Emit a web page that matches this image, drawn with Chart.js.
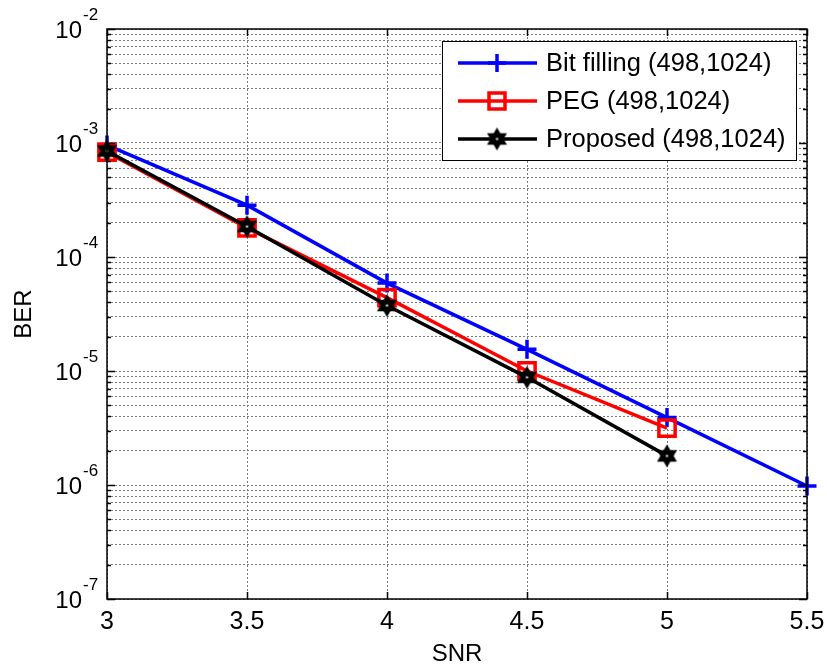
<!DOCTYPE html>
<html>
<head>
<meta charset="utf-8">
<script src="https://cdn.jsdelivr.net/npm/chart.js@4"></script>
<style>
  html, body { margin: 0; padding: 0; background: #fff; }
</style>
</head>
<body>
<canvas id="berChart" width="827" height="671"></canvas>
<script>
// data
var snr = [3, 3.5, 4, 4.5, 5, 5.5];
var berBitFilling = [9.6e-4, 2.85e-4, 5.9e-5, 1.55e-5, 3.9e-6, 9.8e-7];
var berPEG = [8.3e-4, 1.8e-4, 4.4e-5, 1.0e-5, 3.15e-6];
var berProposed = [8.5e-4, 1.85e-4, 3.75e-5, 8.8e-6, 1.8e-6];
var seriesNames = ['Bit filling (498,1024)', 'PEG (498,1024)', 'Proposed (498,1024)'];
var xTicks = [3, 3.5, 4, 4.5, 5, 5.5];
var yExponents = [-7, -6, -5, -4, -3, -2];

var FONT = '"Liberation Sans", Arial, sans-serif';

function toPoints(xs, ys) {
  var out = [];
  for (var i = 0; i < ys.length; i++) out.push({ x: xs[i], y: ys[i] });
  return out;
}

// hexagram marker (MATLAB 'h')
function makeHexagram(r) {
  var c = document.createElement('canvas');
  var s = Math.ceil(r * 2 + 4);
  c.width = s; c.height = s;
  var g = c.getContext('2d');
  var cx = s / 2, cy = s / 2;
  g.fillStyle = '#000';
  [ -Math.PI / 2, Math.PI / 2 ].forEach(function (a0) {
    g.beginPath();
    for (var k = 0; k < 3; k++) {
      var a = a0 + k * 2 * Math.PI / 3;
      var px = cx + r * Math.cos(a), py = cy + r * Math.sin(a);
      if (k === 0) g.moveTo(px, py); else g.lineTo(px, py);
    }
    g.closePath();
    g.fill();
  });
  g.fillStyle = '#fff';
  g.fillRect(cx - 1, cy - 1, 2, 2);
  return c;
}
var hexMarker = makeHexagram(11.5);

// all decade + minor values for the log grid
var yGridValues = [];
for (var e = yExponents[0]; e < yExponents[yExponents.length - 1]; e++) {
  for (var m = 1; m < 10; m++) yGridValues.push(m * Math.pow(10, e));
}
yGridValues.push(Math.pow(10, yExponents[yExponents.length - 1]));

function drawMarker(ctx, idx, x, y) {
  ctx.save();
  if (idx === 0) {
    ctx.strokeStyle = '#0000ff'; ctx.lineWidth = 3.5;
    ctx.beginPath();
    ctx.moveTo(x - 9, y); ctx.lineTo(x + 9, y);
    ctx.moveTo(x, y - 9); ctx.lineTo(x, y + 9);
    ctx.stroke();
  } else if (idx === 1) {
    ctx.strokeStyle = '#ff0000'; ctx.lineWidth = 3.5;
    ctx.strokeRect(x - 8, y - 8, 16, 16);
  } else {
    ctx.drawImage(hexMarker, x - hexMarker.width / 2, y - hexMarker.height / 2);
  }
  ctx.restore();
}

var matlabFrame = {
  id: 'matlabFrame',
  afterDraw: function (chart) {
    var ctx = chart.ctx;
    var a = chart.chartArea;
    var ys = chart.scales.y, xs = chart.scales.x;
    ctx.save();
    ctx.strokeStyle = '#000';
    ctx.lineWidth = 1.5;
    ctx.strokeRect(a.left, a.top, a.right - a.left, a.bottom - a.top);

    // inward tick marks
    ctx.lineWidth = 1.5;
    ctx.beginPath();
    yGridValues.forEach(function (v) {
      var py = Math.round(ys.getPixelForValue(v)) + 0.5;
      var major = Math.abs(Math.log10(v) - Math.round(Math.log10(v))) < 1e-9;
      var len = major ? 8 : 4;
      ctx.moveTo(a.left, py); ctx.lineTo(a.left + len, py);
      ctx.moveTo(a.right, py); ctx.lineTo(a.right - len, py);
    });
    xTicks.forEach(function (v) {
      var px = Math.round(xs.getPixelForValue(v)) + 0.5;
      ctx.moveTo(px, a.bottom); ctx.lineTo(px, a.bottom - 7);
      ctx.moveTo(px, a.top); ctx.lineTo(px, a.top + 7);
    });
    ctx.stroke();

    // y tick labels 10^e
    ctx.fillStyle = '#000';
    yExponents.forEach(function (ex) {
      var py = ys.getPixelForValue(Math.pow(10, ex));
      ctx.font = '24px ' + FONT;
      ctx.textAlign = 'right';
      ctx.textBaseline = 'middle';
      ctx.fillText('10', 82, py + 2);
      ctx.font = '17px ' + FONT;
      ctx.textAlign = 'left';
      ctx.fillText(String(ex), 83, py - 14);
    });

    // legend
    var lx = 442, ly = 41, lw = 354, lh = 119;
    ctx.fillStyle = '#fff';
    ctx.fillRect(lx, ly, lw, lh);
    ctx.strokeStyle = '#000';
    ctx.lineWidth = 1;
    ctx.strokeRect(lx + 0.5, ly + 0.5, lw, lh);
    var rows = [63, 101, 139];
    var colors = ['#0000ff', '#ff0000', '#000000'];
    chart.data.datasets.forEach(function (ds, i) {
      var ry = rows[i];
      ctx.strokeStyle = colors[i];
      ctx.lineWidth = 3.5;
      ctx.beginPath();
      ctx.moveTo(458, ry); ctx.lineTo(537, ry);
      ctx.stroke();
      drawMarker(ctx, i, 497, ry);
      ctx.fillStyle = '#000';
      ctx.font = '25.5px ' + FONT;
      ctx.textAlign = 'left';
      ctx.textBaseline = 'middle';
      ctx.fillText(ds.label, 546, ry + 1);
    });
    ctx.restore();
  }
};

var ctx = document.getElementById('berChart');
var chart = new Chart(ctx, {
  type: 'line',
  data: {
    datasets: [{
      label: seriesNames[0],
      data: toPoints(snr, berBitFilling),
      borderColor: '#0000ff',
      borderWidth: 3.5,
      pointStyle: 'cross',
      pointRadius: 9.5,
      pointBorderWidth: 3.5,
      pointBorderColor: '#0000ff',
      clip: false,
      order: 3
    }, {
      label: seriesNames[1],
      data: toPoints(snr, berPEG),
      borderColor: '#ff0000',
      borderWidth: 3.5,
      pointStyle: 'rect',
      pointRadius: 11.5,
      pointBorderWidth: 3.5,
      pointBorderColor: '#ff0000',
      pointBackgroundColor: 'rgba(0,0,0,0)',
      clip: false,
      order: 2
    }, {
      label: seriesNames[2],
      data: toPoints(snr, berProposed),
      borderColor: '#000000',
      borderWidth: 3.5,
      pointStyle: hexMarker,
      pointRadius: 11,
      clip: false,
      order: 1
    }]
  },
  options: {
    responsive: false,
    animation: false,
    layout: { padding: { top: 29, right: 20, left: 0, bottom: 0 } },
    plugins: {
      legend: { display: false },
      tooltip: { enabled: false }
    },
    scales: {
      x: {
        type: 'linear',
        min: 3,
        max: 5.5,
        afterBuildTicks: function (s) {
          s.ticks = xTicks.map(function (v) { return { value: v }; });
        },
        afterFit: function (s) {
          s.height = 72;
          s.paddingLeft = 0;
          s.paddingRight = 0;
        },
        ticks: {
          color: '#000',
          font: { family: FONT, size: 25 },
          padding: 8,
          maxRotation: 0,
          callback: function (v) { return String(v); }
        },
        grid: { color: '#7a7a7a', lineWidth: 1, drawTicks: false },
        border: { display: false, dash: [2, 2] },
        title: {
          display: true,
          text: 'SNR',
          color: '#000',
          font: { family: FONT, size: 24 },
          padding: { top: 0, bottom: 2 }
        }
      },
      y: {
        type: 'logarithmic',
        min: 1e-7,
        max: 1e-2,
        afterBuildTicks: function (s) {
          s.ticks = yGridValues.map(function (v) { return { value: v }; });
        },
        afterFit: function (s) {
          s.width = 107;
          s.paddingTop = 0;
          s.paddingBottom = 0;
        },
        ticks: { display: false },
        grid: { color: '#7a7a7a', lineWidth: 1, drawTicks: false },
        border: { display: false, dash: [2, 2] },
        title: {
          display: true,
          text: 'BER',
          color: '#000',
          font: { family: FONT, size: 24 },
          padding: { top: 10, bottom: 0 }
        }
      }
    }
  },
  plugins: [matlabFrame]
});
</script>
</body>
</html>
